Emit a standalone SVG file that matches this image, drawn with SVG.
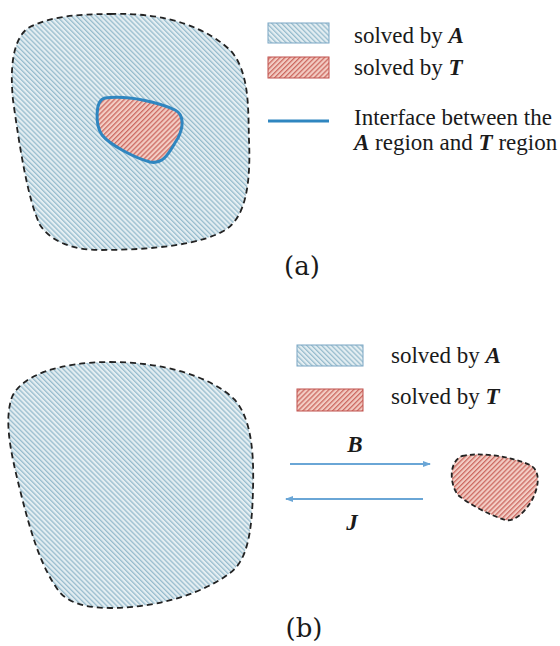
<svg xmlns="http://www.w3.org/2000/svg" width="560" height="646" viewBox="0 0 560 646">
<style>
.txt{font-size:23px;fill:#1a1a1a}
.bi{font-weight:bold;font-style:italic}
.cap{font-size:26px;fill:#1a1a1a}
.regA{fill:url(#hatchA);stroke:#222;stroke-width:1.8;stroke-dasharray:6 4}
.regT{fill:url(#hatchT);stroke:#222;stroke-width:1.8;stroke-dasharray:5 3}
.iface{fill:url(#hatchT);stroke:#2f86c0;stroke-width:3}
.legA{fill:url(#hatchA);stroke:#7aa6c4;stroke-width:1}
.legT{fill:url(#hatchT);stroke:#c0504d;stroke-width:1}
.arr{stroke:#6aa6d6;stroke-width:2;fill:none;marker-end:url(#ah)}
</style>
<defs>
<pattern id="hatchA" patternUnits="userSpaceOnUse" width="3.5" height="3.5" patternTransform="rotate(-45)">
<rect width="3.5" height="3.5" fill="#e4eef2"/>
<rect width="1.3" height="3.5" fill="#97bccd"/>
</pattern>
<pattern id="hatchT" patternUnits="userSpaceOnUse" width="3.5" height="3.5" patternTransform="rotate(45)">
<rect width="3.5" height="3.5" fill="#f3cdc4"/>
<rect width="1.3" height="3.5" fill="#cc6a62"/>
</pattern>
<marker id="ah" markerWidth="8" markerHeight="6" refX="7" refY="3" orient="auto" markerUnits="userSpaceOnUse">
<path d="M0,0 L8,3 L0,6 Z" fill="#6aa6d6"/>
</marker>
</defs>

<g id="panel-a-regionA">
<path class="regA" d="M 110 14 C 170 12, 210 30, 232 52 C 250 75, 248 110, 249 140 C 251 185, 245 215, 228 228 C 205 245, 150 250, 100 250 C 70 250, 50 240, 40 225 C 28 200, 20 150, 13 100 C 10 70, 12 40, 28 28 C 50 16, 80 14, 110 14 Z"/>
</g>
<g id="panel-a-regionT">
<path class="iface" d="M 105 98 C 130 95, 160 103, 175 110 C 185 115, 183 128, 178 138 C 170 150, 165 165, 150 162 C 135 158, 110 145, 102 135 C 95 125, 95 100, 105 98 Z"/>
</g>
<g id="legend-a" font-family="Liberation Serif, Times New Roman, serif">
<rect class="legA" x="268" y="23" width="61" height="20"/>
<text class="txt" x="354" y="43">solved by <tspan class="bi">A</tspan></text>
<rect class="legT" x="268" y="57" width="61" height="21"/>
<text class="txt" x="354" y="75">solved by <tspan class="bi">T</tspan></text>
<line x1="268" y1="121" x2="329" y2="121" stroke="#2f86c0" stroke-width="3"/>
<text class="txt" x="354" y="125">Interface between the</text>
<text class="txt" x="354" y="150"><tspan class="bi">A</tspan> region and <tspan class="bi">T</tspan> region</text>
</g>
<text id="cap-a" class="cap" font-family="DejaVu Serif, serif" x="302" y="275" text-anchor="middle">(a)</text>

<g id="panel-b-regionA">
<path class="regA" d="M 110 362 C 160 362, 210 375, 235 400 C 252 420, 254 455, 253 490 C 252 530, 248 560, 230 573 C 205 592, 160 608, 110 608 C 80 608, 65 600, 58 590 C 40 565, 30 530, 20 490 C 10 450, 4 420, 12 397 C 22 375, 60 362, 110 362 Z"/>
</g>
<g id="panel-b-regionT">
<path class="regT" d="M 462 456 C 480 452, 510 456, 530 465 C 540 470, 540 485, 532 500 C 525 512, 515 522, 505 520 C 490 515, 470 505, 458 495 C 450 485, 448 462, 462 456 Z"/>
</g>
<g id="legend-b" font-family="Liberation Serif, Times New Roman, serif">
<rect class="legA" x="297" y="345" width="66" height="21"/>
<text class="txt" x="391" y="363">solved by <tspan class="bi">A</tspan></text>
<rect class="legT" x="297" y="389" width="66" height="22"/>
<text class="txt" x="391" y="404">solved by <tspan class="bi">T</tspan></text>
</g>
<g id="connectors" font-family="Liberation Serif, Times New Roman, serif">
<line class="arr" x1="290" y1="464" x2="430" y2="464"/>
<line class="arr" x1="423" y1="499" x2="286" y2="499"/>
<text class="txt bi" x="355" y="452" text-anchor="middle">B</text>
<text class="txt bi" x="352" y="530" text-anchor="middle">J</text>
</g>
<text id="cap-b" class="cap" font-family="DejaVu Serif, serif" x="304" y="637" text-anchor="middle">(b)</text>
</svg>
